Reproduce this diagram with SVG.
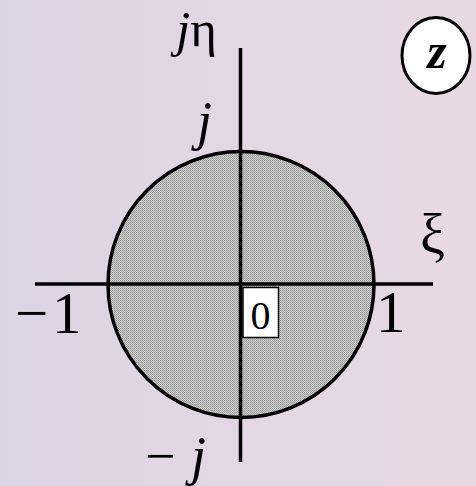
<svg xmlns="http://www.w3.org/2000/svg" width="476" height="486" viewBox="0 0 476 486">
  <defs>
    <linearGradient id="bg" x1="0" y1="0" x2="1" y2="0">
      <stop offset="0" stop-color="#dbd4e5"/>
      <stop offset="1" stop-color="#e9d9e2"/>
    </linearGradient>
    <pattern id="dots" width="2" height="2" patternUnits="userSpaceOnUse">
      <rect width="2" height="2" fill="#cecece"/>
      <rect width="1" height="1" fill="#969696"/>
      <rect x="1" y="1" width="1" height="1" fill="#a4a4a4"/>
    </pattern>
    <style>
      .ln { stroke: #000; stroke-width: 3.5; fill: none; }
      .t { font-family: "Liberation Serif", "Times New Roman", serif; fill: #000; }
      .it { font-style: italic; }
    </style>
  </defs>
  <rect width="476" height="486" fill="url(#bg)"/>

  <g id="disk">
    <circle cx="241" cy="284.5" r="133" fill="url(#dots)" stroke="#000" stroke-width="3.5"/>
  </g>

  <g id="axes">
    <line class="ln" x1="240.5" y1="48" x2="240.5" y2="462"/>
    <line class="ln" x1="35" y1="284" x2="433" y2="284"/>
  </g>

  <g id="origin">
    <rect x="243" y="287.5" width="35.5" height="50" fill="#fff" stroke="#000" stroke-width="1.5"/>
    <text class="t" x="260.5" y="329" font-size="40" text-anchor="middle">0</text>
  </g>

  <g id="label-jeta">
    <text class="t" x="176" y="46" font-size="51"><tspan class="it">j</tspan>η</text>
  </g>
  <g id="label-j">
    <text class="t it" x="197" y="139" font-size="54">j</text>
  </g>
  <g id="label-minus-j">
    <text class="t" x="145" y="474" font-size="54">−<tspan class="it" x="191">j</tspan></text>
  </g>
  <g id="label-xi">
    <text class="t" x="420" y="253" font-size="56">ξ</text>
  </g>
  <g id="label-minus-one">
    <text class="t" x="15" y="333" font-size="59">−<tspan x="52">1</tspan></text>
  </g>
  <g id="label-one">
    <text class="t" x="376" y="332" font-size="59">1</text>
  </g>
  <g id="label-z">
    <ellipse cx="436" cy="55.5" rx="34" ry="38" fill="#fff" stroke="#000" stroke-width="3"/>
    <text class="t it" x="437" y="68" font-size="50" font-weight="bold" text-anchor="middle">z</text>
  </g>
</svg>
